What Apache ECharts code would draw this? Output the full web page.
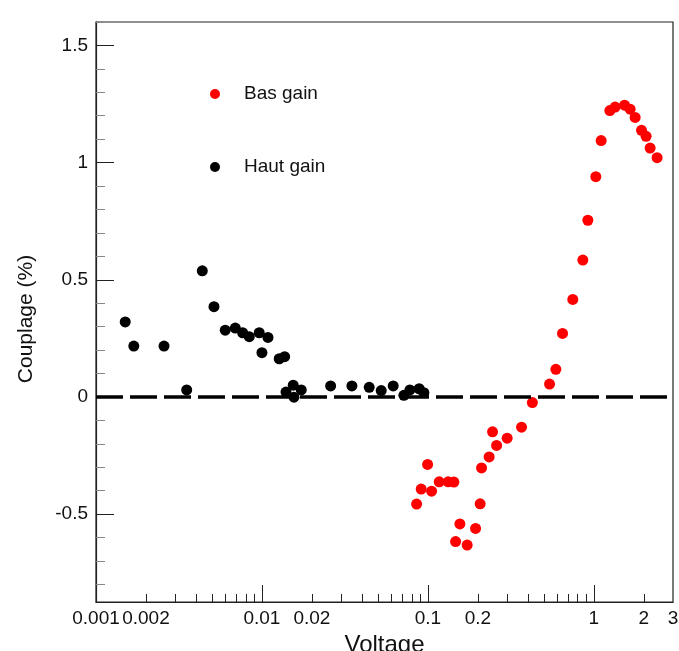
<!DOCTYPE html>
<html>
<head>
<meta charset="utf-8">
<script src="https://cdn.jsdelivr.net/npm/echarts@6/dist/echarts.min.js"></script>
<style>html,body{margin:0;padding:0;background:#fff}#c{width:679px;height:651px}</style>
</head>
<body>
<div id="c"></div>
<script>
// Bas gain (red)
var basVoltage = [0.0855,0.0911,0.0996,0.1053,0.1170,0.1325,0.1434,0.1469,0.1559,0.1725,0.1938,0.2065,0.2106,0.2340,0.2453,0.2594,0.3004,0.3668,0.4262,0.5410,0.5905,0.6477,0.7470,0.8585,0.9203,1.028,1.107,1.249,1.344,1.531,1.655,1.774,1.938,2.066,2.184,2.406];
var basCouplage = [-0.457,-0.393,-0.288,-0.402,-0.362,-0.362,-0.363,-0.617,-0.542,-0.632,-0.561,-0.456,-0.303,-0.256,-0.149,-0.207,-0.176,-0.129,-0.024,0.055,0.118,0.271,0.416,0.584,0.754,0.940,1.094,1.222,1.237,1.245,1.228,1.193,1.138,1.112,1.062,1.021];
// Haut gain (black)
var hautVoltage = [0.00150,0.00169,0.00257,0.00352,0.00437,0.00514,0.00601,0.00691,0.00765,0.00839,0.00963,0.0100,0.01087,0.01271,0.01370,0.01396,0.01544,0.01559,0.01725,0.02594,0.03485,0.04430,0.05234,0.06180,0.07166,0.07791,0.08863,0.09460];
var hautCouplage = [0.320,0.217,0.217,0.030,0.538,0.385,0.285,0.294,0.274,0.257,0.274,0.189,0.254,0.163,0.172,0.021,0.050,-0.001,0.030,0.047,0.047,0.041,0.027,0.047,0.007,0.030,0.035,0.018];
// axis ticks / labels
var xLabelValues = [0.001,0.002,0.01,0.02,0.1,0.2,1,2,3];
var xMajorTicks = [0.001,0.01,0.1,1];
var xMinorTicks = [0.002,0.003,0.004,0.005,0.006,0.007,0.008,0.009,0.02,0.03,0.04,0.05,0.06,0.07,0.08,0.09,0.2,0.3,0.4,0.5,0.6,0.7,0.8,0.9,2];
var yMajorTicks = [-0.5,0,0.5,1,1.5];
var yMinorTicks = [-0.8,-0.7,-0.6,-0.4,-0.3,-0.2,-0.1,0.1,0.2,0.3,0.4,0.6,0.7,0.8,0.9,1.1,1.2,1.3,1.4,1.6];
var seriesNames = ['Bas gain','Haut gain'];

function zip(a,b){return a.map(function(v,i){return [v,b[i]];});}
var FONT = 'Liberation Sans, Arial, Helvetica, sans-serif';
var X_MIN = 0.001, X_MAX = 3, Y_MIN = -0.875, Y_MAX = 1.6;
function fmt(v){return String(+Number(v).toPrecision(6));}

var chart = echarts.init(document.getElementById('c'), null, {renderer:'canvas'});
chart.setOption({
  animation:false,
  backgroundColor:'#fff',
  textStyle:{fontFamily:FONT},
  grid:{left:96,right:6,top:22,bottom:49,containLabel:false,outerBoundsMode:'none',show:true,borderColor:'#222',borderWidth:1.2,backgroundColor:'transparent'},
  legend:{
    orient:'vertical',left:210,top:84.5,padding:0,itemGap:54,
    itemWidth:10,itemHeight:10,icon:'circle',
    data:seriesNames,
    textStyle:{fontSize:19,color:'#111',fontFamily:FONT,padding:[0,0,0,19]}
  },
  xAxis:[{
    type:'log',min:X_MIN,max:X_MAX,position:'bottom',
    name:'Voltage',nameLocation:'middle',nameGap:27,
    nameTextStyle:{fontSize:24,color:'#111',fontFamily:FONT},
    axisLine:{show:true,onZero:false,lineStyle:{color:'#222',width:1.2}},
    axisTick:{show:true,inside:true,length:17,customValues:xMajorTicks,lineStyle:{color:'#222',width:1}},
    axisLabel:{show:true,margin:7,fontSize:19,color:'#111',fontFamily:FONT,customValues:xLabelValues,formatter:fmt,hideOverlap:false},
    splitLine:{show:false},minorTick:{show:false}
  },{
    type:'log',min:X_MIN,max:X_MAX,position:'bottom',
    axisLine:{show:false,onZero:false},
    axisTick:{show:true,inside:true,length:8,customValues:xMinorTicks,lineStyle:{color:'#222',width:1}},
    axisLabel:{show:false},splitLine:{show:false}
  }],
  yAxis:[{
    type:'value',min:Y_MIN,max:Y_MAX,position:'left',
    name:'Couplage (%)',nameLocation:'middle',nameGap:59,nameRotate:90,
    nameTextStyle:{fontSize:21,color:'#111',fontFamily:FONT,padding:[0,14,0,0]},
    axisLine:{show:true,onZero:false,lineStyle:{color:'#222',width:1.2}},
    axisTick:{show:true,inside:true,length:18,customValues:yMajorTicks,lineStyle:{color:'#222',width:1}},
    axisLabel:{show:true,margin:8,fontSize:19,color:'#111',fontFamily:FONT,customValues:yMajorTicks},
    splitLine:{show:false}
  },{
    type:'value',min:Y_MIN,max:Y_MAX,position:'left',
    axisLine:{show:false,onZero:false},
    axisTick:{show:true,inside:true,length:9,customValues:yMinorTicks,lineStyle:{color:'#888',width:1}},
    axisLabel:{show:false},splitLine:{show:false}
  }],
  series:[{
    name:seriesNames[0],type:'scatter',xAxisIndex:0,yAxisIndex:0,
    symbol:'circle',symbolSize:11,itemStyle:{color:'#ff0000',opacity:1},
    data:zip(basVoltage,basCouplage),z:3,
    markLine:{
      silent:true,symbol:['none','none'],label:{show:false},animation:false,
      lineStyle:{color:'#000',width:3.5,type:[27,7],opacity:1},
      emphasis:{disabled:true},
      data:[{yAxis:0}]
    }
  },{
    name:seriesNames[1],type:'scatter',xAxisIndex:0,yAxisIndex:0,
    symbol:'circle',symbolSize:11,itemStyle:{color:'#000000',opacity:1},
    data:zip(hautVoltage,hautCouplage),z:4
  }]
});
</script>
</body>
</html>
